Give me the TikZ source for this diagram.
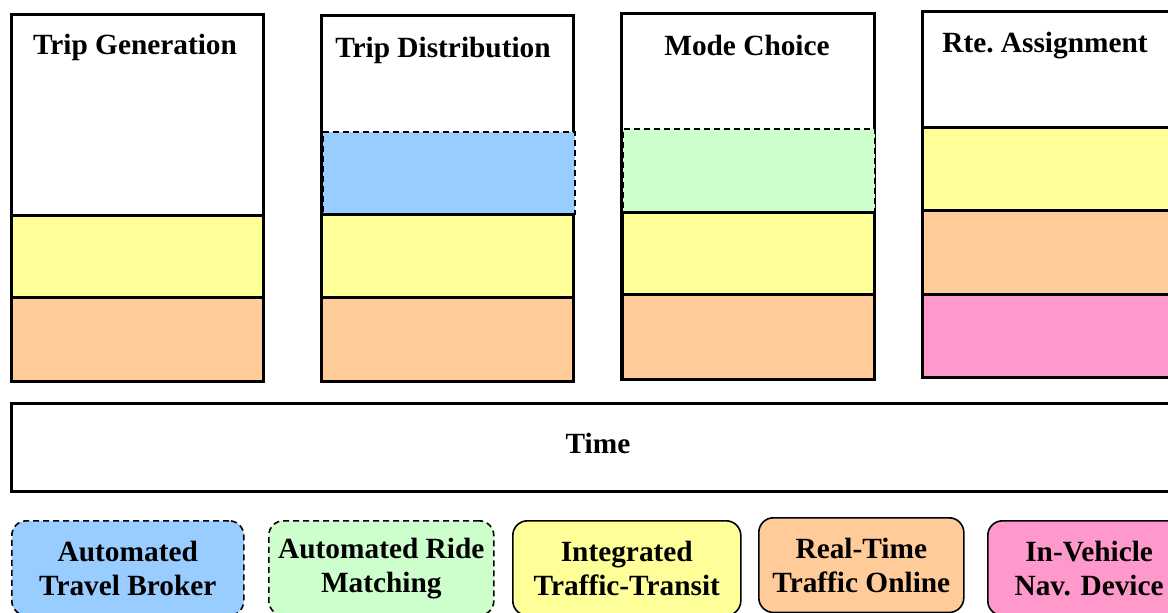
\documentclass[tikz,border=0pt]{standalone}
\usepackage{fontspec}
\setmainfont{Liberation Serif}

\definecolor{brokerblue}{HTML}{99CCFF}
\definecolor{ridegreen}{HTML}{CCFFCC}
\definecolor{transityellow}{HTML}{FFFF99}
\definecolor{onlineorange}{HTML}{FFCC99}
\definecolor{navpink}{HTML}{FF99CC}

\tikzset{
  stage/.style={draw, line width=2pt, inner sep=0pt, anchor=north west},
  band/.style={draw, line width=2pt, inner sep=0pt, anchor=north west},
  optional/.style={line width=1.2pt, dash pattern=on 4.5pt off 3pt},
  title/.style={font=\bfseries\fontsize{22}{25.5}\selectfont, anchor=base},
  legend/.style={draw, line width=1.2pt, rounded corners=11pt, anchor=north west,
    minimum height=71pt, font=\bfseries\fontsize{22}{25.5}\selectfont, align=center}
}

\begin{document}
\begin{tikzpicture}[x=0.75pt, y=-0.75pt]
        \useasboundingbox (0,0) rectangle (1168,612);
        \clip (0,0) rectangle (1168,612);

        % Trip generation column
        \node[stage, minimum width=189pt, minimum height=275.25pt] (tg) at (10,13) {};
        \node[band, fill=transityellow, minimum width=189pt, minimum height=61.5pt] (tg_transit) at (10,214) {};
        \node[band, fill=onlineorange, minimum width=189pt, minimum height=63pt] (tg_online) at (10,296) {};
        \node[title] (tg_title) at (135,54) {Trip Generation};

        % Trip distribution column
        \node[stage, minimum width=189pt, minimum height=274.5pt] (td) at (320,14) {};
        \node[band, optional, fill=brokerblue, minimum width=189pt, minimum height=61.5pt] (td_broker) at (322,131) {};
        \node[band, fill=transityellow, minimum width=189pt, minimum height=62.25pt] (td_transit) at (320,213) {};
        \node[band, fill=onlineorange, minimum width=189pt, minimum height=63pt] (td_online) at (320,296) {};
        \node[title] (td_title) at (443,57) {Trip Distribution};

        % Mode choice column
        \node[stage, minimum width=189.75pt, minimum height=274.5pt] (mc) at (620,12) {};
        \node[band, optional, fill=ridegreen, minimum width=189pt, minimum height=62.25pt] (mc_ride) at (622,128) {};
        \node[band, fill=transityellow, minimum width=189pt, minimum height=61.5pt] (mc_transit) at (621,211) {};
        \node[band, fill=onlineorange, minimum width=189pt, minimum height=63.75pt] (mc_online) at (621,293) {};
        \node[title] (mc_title) at (747,55) {Mode Choice};

        % Route assignment column
        \node[stage, minimum width=201.75pt, minimum height=274.5pt] (ra) at (921,10) {};
        \node[band, fill=transityellow, minimum width=201.75pt, minimum height=62.25pt] (ra_transit) at (921,126) {};
        \node[band, fill=onlineorange, minimum width=201.75pt, minimum height=63pt] (ra_online) at (921,209) {};
        \node[band, fill=navpink, minimum width=201.75pt, minimum height=62.25pt] (ra_nav) at (921,293) {};
        \node[title] (ra_title) at (1045,52) {Rte.\ Assignment};

        % Time axis
        \node[stage, minimum width=885pt, minimum height=66pt] (time) at (10,402) {};
        \node[title] (time_title) at (598,453) {Time};

        % Legend
        \node[legend, optional, fill=brokerblue, minimum width=174pt] (lg_broker) at (11,520) {Automated\\Travel Broker};
        \node[legend, optional, fill=ridegreen, minimum width=168.75pt] (lg_ride) at (268,520) {Automated Ride\\Matching};
        \node[legend, fill=transityellow, minimum width=171pt] (lg_transit) at (512,520) {Integrated\\Traffic-Transit};
        \node[legend, fill=onlineorange, minimum width=153.75pt] (lg_online) at (758,517) {Real-Time\\Traffic Online};
        \node[legend, fill=navpink, minimum width=152pt] (lg_nav) at (987,520) {In-Vehicle\\Nav. Device};
      \end{tikzpicture}
\end{document}
